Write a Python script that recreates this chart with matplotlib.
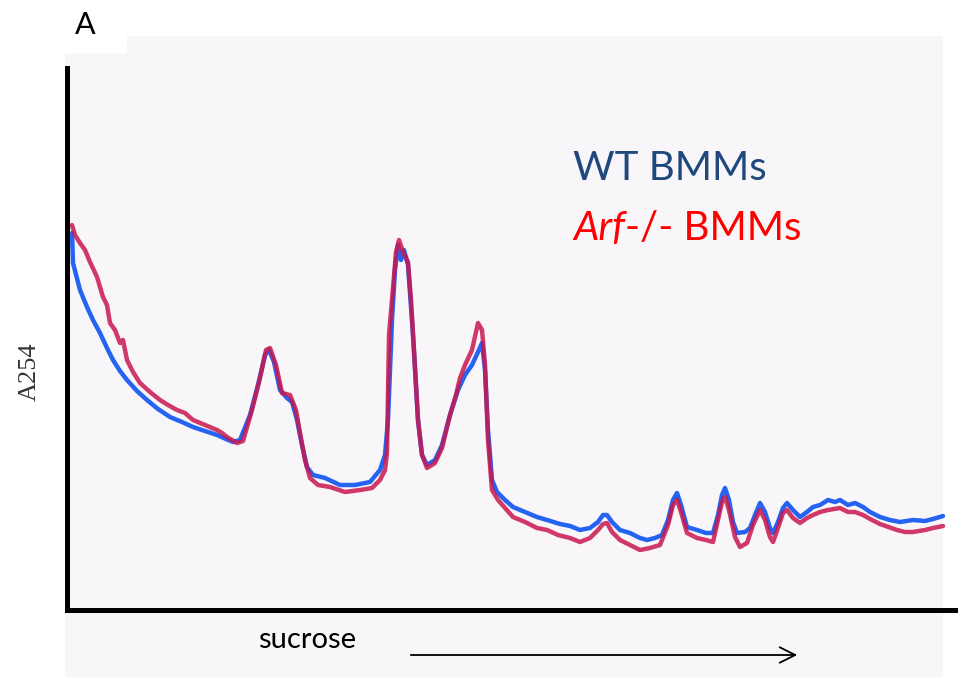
import matplotlib
matplotlib.use("Agg")
import matplotlib.pyplot as plt
from matplotlib.patches import Polygon, FancyArrowPatch

# A254 traces (x = position along gradient, y = absorbance, arbitrary units)
wt_profile = [
    (5, 377), (6, 347), (13, 320), (20, 303), (26, 290), (33, 277), (40, 262), (46, 250),
    (53, 239), (60, 230), (70, 219), (80, 210), (91, 201), (103, 193), (115, 188), (126, 183),
    (138, 179), (150, 175), (159, 171), (166, 168), (173, 170), (183, 195), (191, 225), (198, 255),
    (202, 260), (207, 248), (213, 220), (220, 212), (225, 208), (230, 190), (235, 165), (240, 143),
    (246, 135), (258, 132), (273, 125), (288, 125), (303, 128), (313, 140), (318, 155), (321, 190),
    (325, 290), (328, 340), (331, 365), (334, 350), (337, 360), (341, 345), (346, 275), (351, 190),
    (355, 155), (360, 145), (368, 150), (375, 165), (383, 195), (391, 220), (398, 235), (405, 245),
    (411, 258), (415, 267), (418, 240), (421, 180), (425, 130), (430, 118), (438, 110), (446, 103),
    (458, 98), (470, 93), (480, 90), (493, 86), (503, 84), (513, 80), (523, 82), (531, 88),
    (536, 95), (540, 95), (545, 88), (553, 80), (563, 77), (573, 72), (580, 70), (588, 72),
    (595, 75), (601, 90), (606, 110), (610, 117), (614, 105), (620, 83), (630, 80), (639, 77),
    (646, 77), (651, 95), (655, 115), (658, 122), (662, 110), (666, 88), (670, 77), (678, 78),
    (683, 82), (688, 95), (693, 107), (698, 98), (703, 82), (706, 77), (711, 88), (716, 102),
    (720, 107), (726, 100), (733, 93), (740, 98), (746, 103), (753, 105), (761, 110), (768, 108),
    (773, 110), (781, 105), (788, 107), (796, 103), (803, 98), (813, 93), (823, 90), (833, 88),
    (846, 90), (858, 89), (866, 91), (876, 94),
]

arf_profile = [
    (5, 385), (8, 375), (13, 367), (18, 360), (23, 348), (30, 333), (36, 313), (40, 305),
    (43, 287), (48, 280), (53, 267), (56, 270), (60, 250), (66, 238), (73, 227), (83, 218),
    (93, 210), (101, 205), (110, 200), (118, 197), (126, 190), (138, 185), (150, 180), (155, 177),
    (160, 173), (170, 167), (176, 169), (185, 200), (193, 232), (199, 260), (203, 262), (209, 245),
    (215, 217), (223, 215), (229, 200), (233, 177), (238, 150), (243, 132), (251, 125), (263, 123),
    (278, 118), (293, 120), (305, 122), (313, 130), (318, 140), (320, 157), (321, 215), (322, 275),
    (325, 310), (329, 358), (332, 370), (336, 358), (341, 348), (344, 310), (347, 260), (351, 190),
    (355, 155), (360, 142), (368, 147), (375, 162), (383, 195), (389, 215), (393, 232), (398, 245),
    (405, 260), (411, 287), (415, 280), (418, 245), (421, 170), (425, 120), (431, 110), (438, 102),
    (446, 93), (458, 88), (470, 82), (480, 80), (491, 75), (503, 72), (513, 68), (523, 72),
    (531, 80), (536, 86), (540, 87), (545, 78), (553, 70), (563, 65), (573, 60), (583, 62),
    (593, 65), (601, 85), (606, 105), (610, 110), (614, 98), (620, 77), (630, 72), (639, 70),
    (646, 68), (651, 90), (655, 108), (658, 113), (662, 100), (668, 73), (673, 63), (680, 67),
    (686, 85), (693, 100), (698, 90), (703, 73), (706, 68), (711, 82), (716, 97), (720, 100),
    (726, 92), (733, 87), (740, 92), (746, 95), (753, 98), (761, 100), (773, 102), (781, 98),
    (788, 98), (796, 95), (805, 90), (813, 86), (830, 80), (838, 78), (846, 78), (858, 80),
    (866, 82), (876, 84),
]

W, H = 958, 677
fig = plt.figure(figsize=(W / 100, H / 100), dpi=100, facecolor="white")

# very light scan background behind the panel
bg = Polygon([(127 / W, 1 - 36 / H), (943 / W, 1 - 36 / H), (943 / W, 0), (65 / W, 0),
              (65 / W, 1 - 53 / H), (127 / W, 1 - 53 / H)], closed=True,
             transform=fig.transFigure, facecolor="#f8f6f8", edgecolor="none", zorder=-5)
fig.patches.append(bg)

ax = fig.add_axes([67 / W, 67 / H, 891 / W, 542 / H])
ax.patch.set_visible(False)
ax.set_xlim(0, 891)
ax.set_ylim(0, 542)

wx, wy = zip(*wt_profile)
rx, ry = zip(*arf_profile)
ax.plot(wx, wy, color="#2563f2", lw=3.2, solid_joinstyle="round", solid_capstyle="round", zorder=3)
ax.plot(rx, ry, color="#c8174e", lw=3.2, alpha=0.85, solid_joinstyle="round",
        solid_capstyle="round", zorder=4)

for s in ["top", "right"]:
    ax.spines[s].set_visible(False)
ax.spines["left"].set_linewidth(3.6)
ax.spines["bottom"].set_linewidth(3.6)
ax.set_xticks([])
ax.set_yticks([])

# labels
fig.text(30 / W, 1 - 372 / H, "A254", rotation=90, ha="center", va="center",
         family="Liberation Serif", fontsize=19, color="#333333")
fig.text(75 / W, 1 - 25 / H, "A", ha="left", va="center", family="Lato", fontsize=22)

fig.text(258 / W, 1 - 640 / H, "sucrose", ha="left", va="center", family="Lato",
         fontsize=21, color="black")
fig.add_artist(FancyArrowPatch(
    (408 / W, 1 - 655 / H), (800 / W, 1 - 655 / H), transform=fig.transFigure,
    arrowstyle="->", mutation_scale=28, lw=1.3, color="black"))

# legend text
fig.text(573 / W, 1 - 168 / H, "WT BMMs", ha="left", va="center", family="Lato",
         fontsize=29, color="#1f497d")
t1 = fig.text(573 / W, 1 - 228 / H, "Arf", ha="left", va="center", family="Lato",
              style="italic", fontsize=29, color="#ff0000")
ax.annotate("-/- BMMs", xy=(1, 0.5), xycoords=t1, ha="left", va="center",
            family="Lato", fontsize=29, color="#ff0000", annotation_clip=False)

fig.savefig("out.png", dpi=100, facecolor=fig.get_facecolor())
